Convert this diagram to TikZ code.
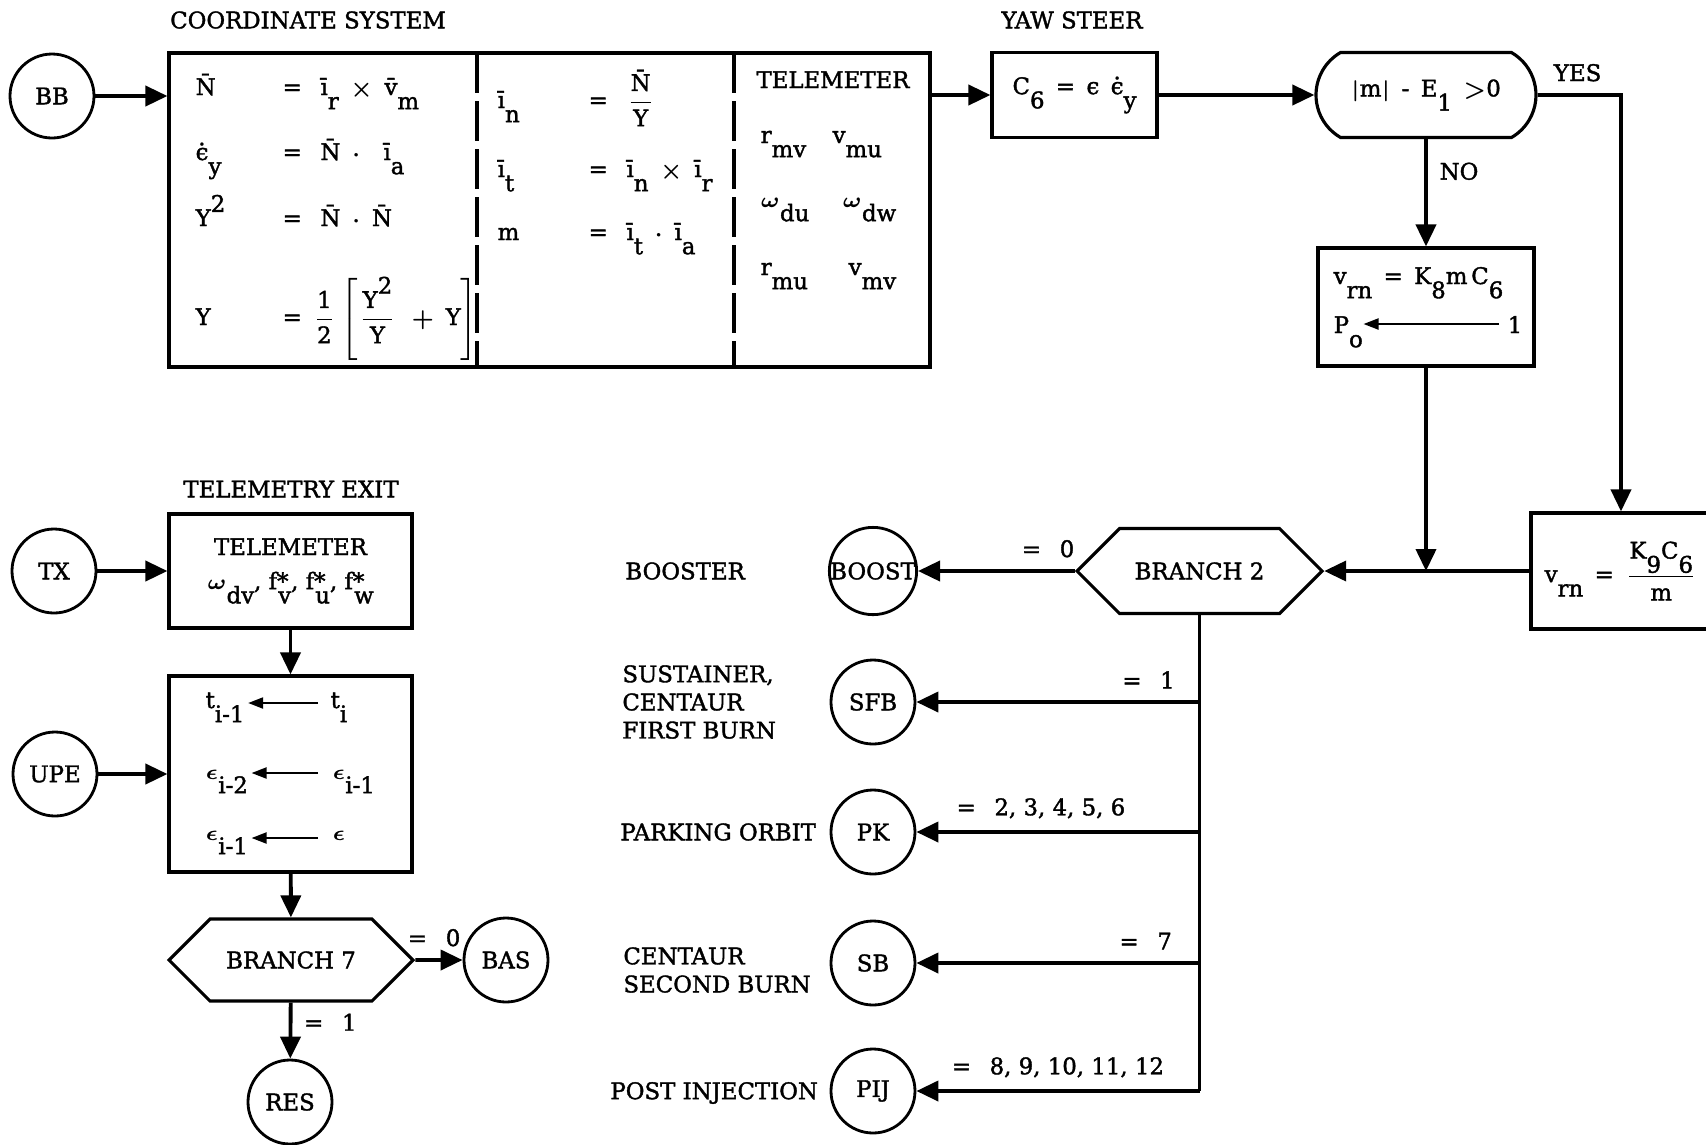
\documentclass[tikz,border=0pt]{standalone}
\usepackage{amsmath}
\usepackage{fontspec}
\setmainfont{DejaVu Serif}[AutoFakeBold=1.6]
\usetikzlibrary{arrows.meta,shapes.misc,shapes.symbols}

% dropped subscripts and raised exponents, set full size as on the old sheets
\newcommand\dn[1]{\raisebox{-.62em}{#1}}
\newcommand\up[1]{\raisebox{.62em}{#1}}
\newcommand\vb[1]{\={#1}}
\newcommand\eps{\symbol{"03F5}}
\newcommand\epsdot{$\dot{\mbox{\eps}}$}

\tikzset{
  box/.style={draw,line width=.9pt,inner sep=0pt},
  term/.style={draw,circle,line width=.8pt,minimum size=8.4mm,inner sep=0pt},
  flow/.style={line width=1.1pt,-{Triangle[length=2.2mm,width=2mm]}},
  trunk/.style={line width=1.1pt},
  hexa/.style={draw,signal,signal to=west and east,signal pointer angle=90,line width=.9pt,inner sep=0pt},
  test/.style={draw,rounded rectangle,rounded rectangle arc length=120,line width=.9pt,inner sep=0pt},
  move/.style={line width=.6pt,-{Triangle[length=1.5mm,width=1.1mm]}},
  divider/.style={line width=1pt,dash pattern=on 4mm off .8mm},
  eq/.style={anchor=base west,inner sep=0pt},
}

\begin{document}
\begin{tikzpicture}[x=.1mm,y=-.1mm,font=\fontsize{6.5}{8}\selectfont\bfseries\boldmath]
\useasboundingbox (0,0) rectangle (1706,1144);

% coordinate system block
\node (cstitle) at (308,20) {COORDINATE SYSTEM};
\node[term] (bb) at (52,96) {BB};
\node[box,minimum width=76.1mm,minimum height=31.4mm] (cs) at (549.5,210) {};
\draw[divider] (477,53) -- (477,367);
\draw[divider] (734,53) -- (734,367);

\node[eq] (nl) at (195,95) {\vb{N}};
\node[eq] (nr) at (282,95) {= \enspace\vb{\i}\dn{r}\enspace$\times$\enspace\vb{v}\dn{m}};
\node[eq] (el) at (195,160) {\epsdot\dn{y}};
\node[eq] (er) at (282,160) {= \enspace\vb{N}\enspace$\cdot$\enspace\enspace\vb{\i}\dn{a}};
\node[eq] (ysl) at (195,226) {Y\up{2}};
\node[eq] (ysr) at (282,226) {= \enspace\vb{N}\enspace$\cdot$\enspace\vb{N}};
\node[eq] (yl) at (195,325) {Y};
\node[eq] (yr) at (282,325) {= \,$\dfrac{\mbox{1}}{\mbox{2}}\left[\dfrac{\mbox{Y\up{2}}}{\mbox{Y}}\;+\,\mbox{Y}\right]$};

\node[eq] (inl) at (497,108) {\vb{\i}\dn{n}};
\node[eq] (inr) at (588,108) {= \enspace$\dfrac{\mbox{\vb{N}}}{\mbox{Y}}$};
\node[eq] (itl) at (497,177) {\vb{\i}\dn{t}};
\node[eq] (itr) at (588,177) {= \enspace\vb{\i}\dn{n}\enspace$\times$\enspace\vb{\i}\dn{r}};
\node[eq] (ml) at (497,240) {m};
\node[eq] (mr) at (588,240) {= \enspace\vb{\i}\dn{t}\enspace$\cdot$\enspace\vb{\i}\dn{a}};

\node[anchor=base] (tm) at (833,88) {TELEMETER};
\node[eq] (rmv) at (760,143) {r\dn{mv}};
\node[eq] (vmu) at (832,143) {v\dn{mu}};
\node[eq] (wdu) at (760,207) {$\omega$\dn{du}};
\node[eq] (wdw) at (842,207) {$\omega$\dn{dw}};
\node[eq] (rmu) at (760,275) {r\dn{mu}};
\node[eq] (vmv) at (848,275) {v\dn{mv}};

\draw[flow] (bb) -- (bb -| cs.west);

% yaw steer
\node (yawtitle) at (1072,20) {YAW STEER};
\node[box,minimum width=16.5mm,minimum height=8.5mm] (yaw) at (1074.5,95)
  {C\dn{6}\enspace=\enspace\eps\enspace\epsdot\dn{y}};
\draw[flow] (cs.east |- yaw) -- (yaw);

\node[test,minimum width=22mm,minimum height=8.5mm] (test) at (1426,95)
  {$|$m$|$\enspace-\enspace E\dn{1}\enspace$>$0};
\draw[flow] (yaw) -- (test);

\node[box,minimum width=21.6mm,minimum height=11.8mm] (kgain) at (1426,307) {};
\node[eq] (vrn) at (1333,284) {v\dn{rn}\enspace=\enspace K\dn{8}m\,C\dn{6}};
\node[eq] (po) at (1333,333) {P\dn{o}};
\node[eq] (one) at (1507,333) {1};
\draw[move,shorten <=.8mm] ([yshift=.9mm]one.base west) -- ([yshift=.9mm]po.base east);

\node[box,minimum width=18mm,minimum height=11.6mm] (kfrac) at (1621,571)
  {v\dn{rn}\enspace=\enspace$\dfrac{\mbox{K\dn{9}C\dn{6}}}{\mbox{m}}$};

\draw[flow] (test.south) -- node[pos=.3,right] {NO} (kgain.north);
\draw[flow] (test.east) -| node[pos=.24,above] {YES} (kfrac.north);

% branch 2 and its exits
\node[hexa,minimum width=24.5mm,minimum height=8.5mm] (br2) at (1199.5,571) {BRANCH 2};
\draw[flow] (kgain.south) -- (kgain.south |- br2);
\draw[flow] (kfrac.west) -- (br2.east);

\node[term] (boost) at (873,571) {BOOST};
\node[term] (sfb) at (873,702) {SFB};
\node[term] (pk) at (873,832) {PK};
\node[term] (sb) at (873,963) {SB};
\node[term] (pij) at (873,1091) {PIJ};

\node[anchor=west] (booster) at (613,571) {BOOSTER};
\node[anchor=west,align=left] (sust) at (610,702) {SUSTAINER,\\CENTAUR\\FIRST BURN};
\node[anchor=west] (park) at (608,832) {PARKING ORBIT};
\node[anchor=west,align=left] (cent) at (611,970) {CENTAUR\\SECOND BURN};
\node[anchor=west] (post) at (598,1093) {POST INJECTION};

\draw[flow] (br2.west) -- node[pos=.17,above] {= \enspace 0} (boost);
\draw[trunk] (br2.south) -- (br2.south |- pij);
\draw[flow] (br2.south |- sfb) -- node[pos=.18,above] {= \enspace 1} (sfb);
\draw[flow] (br2.south |- pk) -- node[pos=.56,above] {= \enspace 2, 3, 4, 5, 6} (pk);
\draw[flow] (br2.south |- sb) -- node[pos=.19,above] {= \enspace 7} (sb);
\draw[flow] (br2.south |- pij) -- node[pos=.5,above] {= \enspace 8, 9, 10, 11, 12} (pij);

% telemetry exit
\node (txtitle) at (291,489) {TELEMETRY EXIT};
\node[term] (tx) at (54,571) {TX};
\node[box,minimum width=24.3mm,minimum height=11.4mm,align=center] (telem) at (290.5,571)
  {TELEMETER\\[.6mm]$\omega$\dn{dv}, f*\hspace{-.45em}\dn{v}, f*\hspace{-.45em}\dn{u}, f*\hspace{-.45em}\dn{w}};
\draw[flow] (tx) -- (telem);

\node[term] (upe) at (55,774) {UPE};
\node[box,minimum width=24.3mm,minimum height=19.6mm] (shift) at (290.5,774) {};
\node[eq] (t1) at (205,708) {t\dn{i-1}};
\node[eq] (t0) at (330,708) {t\dn{i}};
\node[eq] (e2) at (205,779) {$\epsilon$\dn{i-2}};
\node[eq] (e1) at (332,779) {$\epsilon$\dn{i-1}};
\node[eq] (e1b) at (205,840) {$\epsilon$\dn{i-1}};
\node[eq] (e0) at (332,840) {$\epsilon$};
\draw[move,shorten <=1.2mm,shorten >=.3mm] ([yshift=.5mm]t0.base west) -- ([yshift=.5mm]t1.base east);
\draw[move,shorten <=1.4mm,shorten >=.3mm] ([yshift=.6mm]e1.base west) -- ([yshift=.6mm]e2.base east);
\draw[move,shorten <=1.4mm,shorten >=.3mm] ([yshift=.2mm]e0.base west) -- ([yshift=.2mm]e1b.base east);
\draw[flow] (telem) -- (shift);
\draw[flow] (upe) -- (shift);

\node[hexa,minimum width=24.4mm,minimum height=8.2mm] (br7) at (291,960) {BRANCH 7};
\draw[flow] (shift) -- (br7);
\node[term] (bas) at (506,960) {BAS};
\node[term] (res) at (290,1102) {RES};
\draw[flow] (br7) -- node[pos=.4,above] {= \enspace 0} (bas);
\draw[flow] (br7) -- node[pos=.35,right] {= \enspace 1} (res);

\end{tikzpicture}
\end{document}
